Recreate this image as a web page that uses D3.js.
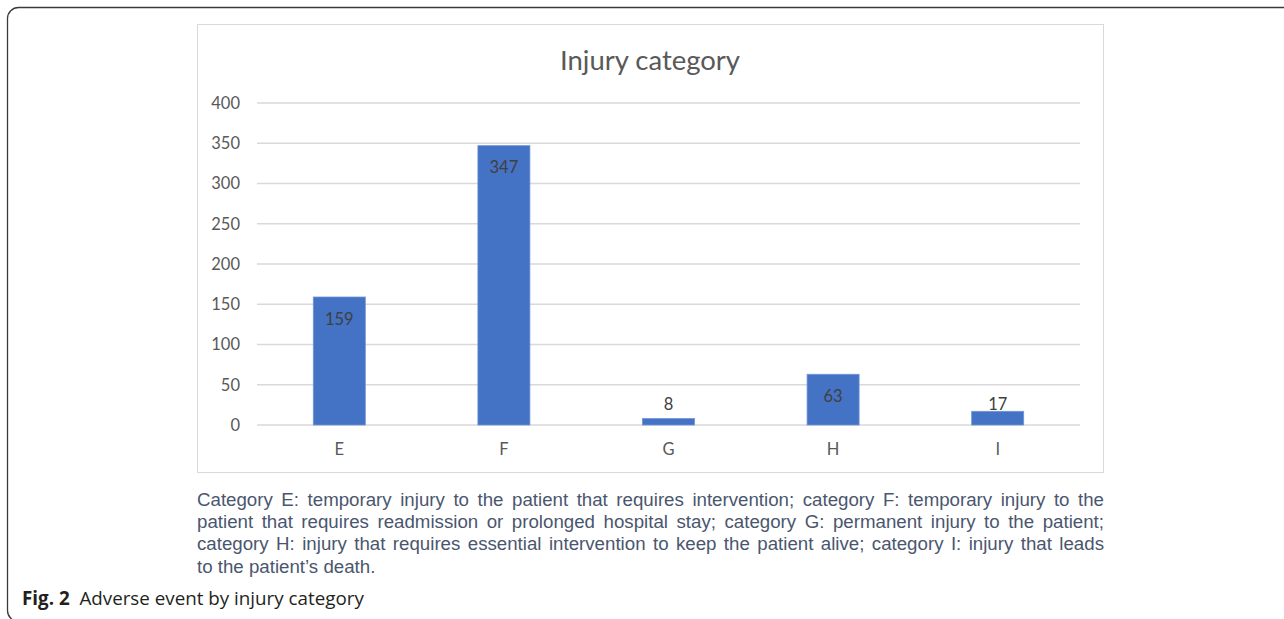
<!DOCTYPE html>
<html><head><meta charset="utf-8">
<script src="https://cdn.jsdelivr.net/npm/d3@7"></script>
<style>
html,body{margin:0;padding:0;background:#fff;}
#cap{position:absolute;left:197px;top:489px;width:907px;font-family:"Liberation Sans",Arial,sans-serif;font-size:18.7px;color:#4a566e;line-height:22.2px;}
#cap div{text-align:justify;text-align-last:justify;white-space:nowrap;}
#cap div.last{text-align-last:left;}
#fig{position:absolute;left:22px;top:585px;font-family:"Open Sans",sans-serif;font-size:18.8px;color:#231f20;}
</style></head>
<body>
<svg id="chart" width="1284" height="619" style="position:absolute;left:0;top:0"></svg>
<div id="cap"></div>
<div id="fig"><b>Fig. 2</b>&nbsp; Adverse event by injury category</div>
<script>
const categories = ["E","F","G","H","I"];
const values = [159,347,8,63,17];
const yTicks = [0,50,100,150,200,250,300,350,400];
const title = "Injury category";
const captionLines = [
 "Category E: temporary injury to the patient that requires intervention; category F: temporary injury to the",
 "patient that requires readmission or prolonged hospital stay; category G: permanent injury to the patient;",
 "category H: injury that requires essential intervention to keep the patient alive; category I: injury that leads",
 "to the patient’s death."
];

const svg = d3.select("#chart");
svg.append("rect").attr("x",7.5).attr("y",7.5).attr("width",1320).attr("height",614)
  .attr("rx",11).attr("fill","none").attr("stroke","#3a3a3a").attr("stroke-width",1.3);
svg.append("rect").attr("x",197.5).attr("y",24.5).attr("width",906).attr("height",448)
  .attr("fill","#fff").attr("stroke","#d9d9d9").attr("stroke-width",1);

const x = d3.scaleBand().domain(categories).range([257,1080]).paddingInner(0).paddingOuter(0);
const y = d3.scaleLinear().domain([0,400]).range([425,103]);

svg.append("g").selectAll("line").data(yTicks).join("line")
  .attr("x1",257).attr("x2",1080).attr("y1",d=>y(d)).attr("y2",d=>y(d))
  .attr("stroke","#d9d9d9").attr("stroke-width",1.3);

const yAxis = svg.append("g").attr("transform","translate(240,0)")
  .call(d3.axisLeft(y).tickValues(yTicks).tickSize(0).tickPadding(0));
yAxis.select(".domain").remove();
yAxis.selectAll("text").attr("font-family","Lato, sans-serif").attr("font-size",16.5).attr("fill","#595959");

const xAxis = svg.append("g").attr("transform","translate(0,450)")
  .call(d3.axisBottom(x).tickSize(0).tickPadding(0));
xAxis.select(".domain").remove();
xAxis.selectAll("text").attr("dy","0.32em").attr("font-family","Lato, sans-serif").attr("font-size",16.5).attr("fill","#595959");

const bw = x.bandwidth()*0.316;
svg.append("g").selectAll("rect").data(values).join("rect")
  .attr("x",(d,i)=>x(categories[i])+x.bandwidth()/2-bw/2)
  .attr("y",d=>y(d)).attr("width",bw).attr("height",d=>y(0)-y(d))
  .attr("fill","#4472c4").attr("stroke","#6f93d6").attr("stroke-width",0.8);

svg.append("g").selectAll("text").data(values).join("text")
  .attr("x",(d,i)=>x(categories[i])+x.bandwidth()/2)
  .attr("y",d=>Math.min(y(d)+22,y(0)-21)).attr("dy","0.35em")
  .attr("text-anchor","middle").attr("font-family","Lato, sans-serif").attr("font-size",16.5)
  .attr("fill","#404040").text(d=>d);

svg.append("text").attr("x",650).attr("y",70).attr("text-anchor","middle")
  .attr("font-family","Lato, sans-serif").attr("font-size",27.5).attr("fill","#595959").text(title);

d3.select("#cap").selectAll("div").data(captionLines).join("div")
  .attr("class",(d,i)=>i===captionLines.length-1?"last":null).text(d=>d);
</script>
</body></html>
